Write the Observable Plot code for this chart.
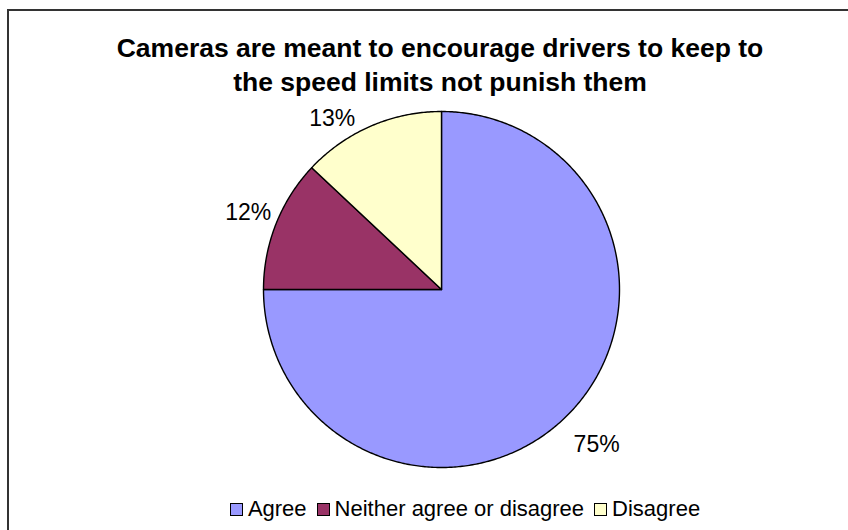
<!DOCTYPE html>
<html>
<head>
<meta charset="utf-8">
<script src="https://cdn.jsdelivr.net/npm/d3@7"></script>
<script src="https://cdn.jsdelivr.net/npm/@observablehq/plot@0.6"></script>
<style>
  body { margin: 0; background: #fff; font-family: "Liberation Sans", Arial, sans-serif; }
  #chart { position: relative; width: 848px; height: 530px; overflow: hidden; background: #fff; }
  #frame { position: absolute; left: 7px; top: 9px; width: 900px; height: 600px; border: 2px solid #333; box-sizing: border-box; }
  #title { position: absolute; left: 0; top: 31px; width: 880px; text-align: center; font-weight: bold; font-size: 26.5px; line-height: 34px; color: #000; }
  #plot { position: absolute; left: 0; top: 100px; }
  #legend { position: absolute; left: 0; top: 496px; width: 930px; display: flex; justify-content: center; align-items: center; font-size: 22px; color: #000; }
  .item { display: flex; align-items: center; margin: 0 5px; }
  .swatch { width: 13px; height: 13px; border: 1px solid #000; margin-right: 5px; box-sizing: border-box; }
</style>
</head>
<body>
<div id="chart">
  <div id="frame"></div>
  <div id="title">Cameras are meant to encourage drivers to keep to<br>the speed limits not punish them</div>
  <div id="plot"></div>
  <div id="legend"></div>
</div>
<script>
// Survey responses
const categories = ["Agree", "Neither agree or disagree", "Disagree"];
const values = [75, 12, 13];
const valueLabels = ["75%", "12%", "13%"];
const colors = ["#9999FF", "#993366", "#FFFFCC"];

// Slice angles, clockwise from 12 o'clock
const arcs = d3.pie().sort(null).startAngle(0).endAngle(2 * Math.PI)(values);

// Each slice as a closed polygon: centre, then points along its arc
const slices = [];
arcs.forEach((a, i) => {
  slices.push({cat: categories[i], x: 0, y: 0});
  const steps = Math.max(2, Math.ceil((a.endAngle - a.startAngle) / 0.01));
  for (let k = 0; k <= steps; k++) {
    const t = a.startAngle + (a.endAngle - a.startAngle) * k / steps;
    slices.push({cat: categories[i], x: Math.sin(t), y: Math.cos(t)});
  }
});

// Percentage labels outside the rim at each slice's middle angle;
// a label that would rise above the top of the pie slides down along the rim
const R = 178;
const labelDist = (c) => 1.19 - 0.06 * c;
const yMax = 0.96;
const labels = arcs.map((a, i) => {
  let m = (a.startAngle + a.endAngle) / 2;
  for (let k = 0; k < 20; k++) {
    const d = labelDist(Math.cos(m));
    if (d * Math.cos(m) <= yMax + 1e-6) break;
    const target = Math.acos(Math.min(1, yMax / d));
    m = Math.sin(m) < 0 ? 2 * Math.PI - target : target;
  }
  const d = labelDist(Math.cos(m));
  return {text: valueLabels[i], x: Math.sin(m) * d, y: Math.cos(m) * d};
});

const cx = 441, cy = 189, W = 848, H = 380;
const chart = Plot.plot({
  width: W,
  height: H,
  marginLeft: cx - R,
  marginRight: W - cx - R,
  marginTop: cy - R,
  marginBottom: H - cy - R,
  x: {domain: [-1, 1], axis: null},
  y: {domain: [-1, 1], axis: null},
  color: {domain: categories, range: colors},
  style: {background: "transparent", overflow: "visible"},
  marks: [
    Plot.line(slices, {x: "x", y: "y", z: "cat", fill: "cat", stroke: "#000", strokeWidth: 1.4, curve: "linear-closed", strokeLinejoin: "round"}),
    Plot.text(labels, {x: "x", y: "y", text: "text", fontSize: 23, fill: "#000", fontFamily: "Liberation Sans, Arial, sans-serif"})
  ]
});
document.getElementById("plot").appendChild(chart);

// Legend
const legend = document.getElementById("legend");
categories.forEach((c, i) => {
  const item = document.createElement("div");
  item.className = "item";
  const sw = document.createElement("div");
  sw.className = "swatch";
  sw.style.background = colors[i];
  const tx = document.createElement("span");
  tx.textContent = c;
  item.appendChild(sw);
  item.appendChild(tx);
  legend.appendChild(item);
});
</script>
</body>
</html>
